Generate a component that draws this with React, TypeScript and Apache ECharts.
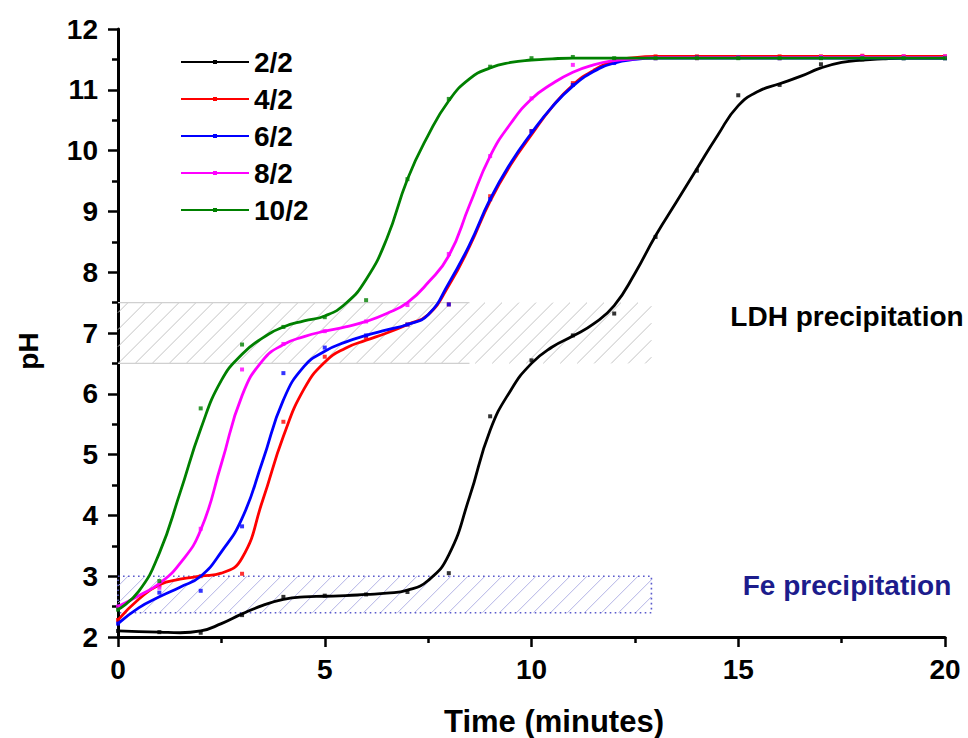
import React, { useEffect, useRef } from "react";
import * as echarts from "echarts";

// ---------- data ----------
const seriesNames = ["2/2", "4/2", "6/2", "8/2", "10/2"];
const seriesColors = ["#000000", "#ff0000", "#0000ff", "#ff00ff", "#008000"];

// fitted curve sampling times (minutes)
const curveTimes = [
  0, 0.5, 1, 1.5, 2, 2.5, 3, 3.5, 4, 4.5, 5, 5.5, 6, 6.5, 7, 7.5, 8, 8.5, 9, 9.5,
  10, 10.5, 11, 11.5, 12, 12.5, 13, 13.5, 14, 14.5, 15, 15.5, 16, 16.5, 17, 17.5,
  18, 18.5, 19, 19.5, 20,
];

const curve22 = [
  2.1, 2.09, 2.08, 2.07, 2.1, 2.22, 2.38, 2.52, 2.62, 2.66,
  2.67, 2.68, 2.7, 2.72, 2.77, 2.93, 3.35, 4.3, 5.4, 6.06,
  6.5, 6.77, 6.95, 7.15, 7.45, 7.98, 8.6, 9.15, 9.7, 10.25,
  10.74, 10.98, 11.1, 11.22, 11.36, 11.45, 11.49, 11.51, 11.52, 11.52,
  11.52,
];
const curve42 = [
  2.28, 2.62, 2.86, 2.95, 3.0, 3.05, 3.3, 4.25, 5.3, 6.08,
  6.52, 6.75, 6.88, 7.0, 7.14, 7.3, 7.78, 8.42, 9.17, 9.77,
  10.26, 10.72, 11.08, 11.32, 11.47, 11.53, 11.55, 11.55, 11.55, 11.55,
  11.55, 11.55, 11.55, 11.55, 11.55, 11.55, 11.55, 11.55, 11.55, 11.55,
  11.55,
];
const curve62 = [
  2.22, 2.48, 2.66, 2.82, 3.0, 3.4, 3.95, 4.9, 5.9, 6.45,
  6.7, 6.85, 6.96, 7.05, 7.14, 7.3, 7.82, 8.45, 9.2, 9.8,
  10.29, 10.72, 11.06, 11.3, 11.44, 11.5, 11.52, 11.52, 11.52, 11.52,
  11.52, 11.52, 11.52, 11.52, 11.52, 11.52, 11.52, 11.52, 11.52, 11.52,
  11.52,
];
const curve82 = [
  2.5, 2.68, 2.88, 3.21, 3.76, 4.85, 5.97, 6.55, 6.81, 6.94,
  7.03, 7.1, 7.19, 7.32, 7.5, 7.83, 8.27, 9.1, 9.91, 10.45,
  10.85, 11.1, 11.29, 11.41, 11.48, 11.51, 11.53, 11.53, 11.53, 11.53,
  11.53, 11.53, 11.53, 11.53, 11.53, 11.53, 11.53, 11.53, 11.53, 11.53,
  11.53,
];
const curve102 = [
  2.45, 2.75, 3.38, 4.37, 5.42, 6.22, 6.65, 6.92, 7.1, 7.2,
  7.28, 7.48, 7.88, 8.55, 9.53, 10.25, 10.82, 11.18, 11.36, 11.45,
  11.49, 11.51, 11.52, 11.52, 11.52, 11.52, 11.52, 11.52, 11.52, 11.52,
  11.52, 11.52, 11.52, 11.52, 11.52, 11.52, 11.52, 11.52, 11.52, 11.52,
  11.52,
];

// measured points (one per minute)
const markerTimes = [0, 1, 2, 3, 4, 5, 6, 7, 8, 9, 10, 11, 12, 13, 14, 15, 16, 17, 18, 19, 20];
const points22 = [2.1, 2.08, 2.07, 2.36, 2.66, 2.68, 2.7, 2.74, 3.05, 5.63, 6.55, 6.96, 7.32, 8.58, 9.67, 10.91, 11.08, 11.42, 11.5, 11.52, 11.52];
const points42 = [2.28, 2.85, 3.0, 3.04, 5.54, 6.61, 6.92, 7.14, 7.47, 9.25, 10.32, 11.11, 11.46, 11.55, 11.55, 11.54, 11.55, 11.55, 11.56, 11.55, 11.55];
const points62 = [2.22, 2.73, 2.76, 3.82, 6.34, 6.76, 6.96, 7.14, 7.47, 9.2, 10.32, 11.08, 11.44, 11.52, 11.53, 11.53, 11.52, 11.53, 11.53, 11.52, 11.52];
const points82 = [2.5, 2.81, 3.78, 6.4, 6.82, 7.03, 7.19, 7.46, 8.3, 9.91, 10.86, 11.41, 11.5, 11.52, 11.52, 11.53, 11.52, 11.54, 11.55, 11.55, 11.55];
const points102 = [2.45, 2.92, 5.76, 6.81, 7.1, 7.26, 7.54, 9.53, 10.85, 11.38, 11.52, 11.54, 11.52, 11.52, 11.52, 11.52, 11.52, 11.52, 11.52, 11.52, 11.52];

const curves = [curve22, curve42, curve62, curve82, curve102];
const points = [points22, points42, points62, points82, points102];

// precipitation bands: [tStart, tEnd, pHLow, pHHigh]
const ldhBand = [0, 12.9, 6.5, 7.5];
const feBand = [0, 12.9, 2.4, 3.0];
const ldhBorderEnd = 8.5;

const xTicks = { min: 0, max: 20, interval: 5 };
const yTicks = { min: 2, max: 12, interval: 1 };

const FONT = "'Liberation Sans', Arial, Helvetica, sans-serif";

function makeHatch(kind: "ldh" | "fe") {
  return (params: any, api: any) => {
    const x0 = api.value(0);
    const x1 = api.value(1);
    const y0 = api.value(2);
    const y1 = api.value(3);
    const pTL = api.coord([x0, y1]);
    const pBR = api.coord([x1, y0]);
    const L = pTL[0], T = pTL[1], R = pBR[0], B = pBR[1];
    const spacing = 17;
    const hatchColor = kind === "ldh" ? "#c4c4c4" : "#b4b4e6";
    const children: any[] = [];
    for (let c = L + T + 10; c < R + B; c += spacing) {
      const xs = Math.max(L, c - B);
      const xe = Math.min(R, c - T);
      if (xe <= xs) continue;
      children.push({
        type: "line",
        silent: true,
        shape: { x1: xs, y1: c - xs, x2: xe, y2: c - xe },
        style: { stroke: hatchColor, lineWidth: 1 },
      });
    }
    if (kind === "ldh") {
      const xb = api.coord([ldhBorderEnd, y0])[0];
      children.push({
        type: "line",
        silent: true,
        shape: { x1: L, y1: T, x2: xb, y2: T },
        style: { stroke: "#d0d0d0", lineWidth: 1.2 },
      });
      children.push({
        type: "line",
        silent: true,
        shape: { x1: L, y1: B, x2: xb, y2: B },
        style: { stroke: "#d0d0d0", lineWidth: 1.2 },
      });
    } else {
      children.push({
        type: "rect",
        silent: true,
        shape: { x: L, y: T, width: R - L, height: B - T },
        style: { fill: "none", stroke: "#5a5acc", lineWidth: 1.6, lineDash: [1.6, 3.4] },
      });
    }
    return { type: "group", children };
  };
}

export default function App() {
  const ref = useRef<HTMLDivElement>(null);

  useEffect(() => {
    const chart = echarts.init(ref.current!, null, { renderer: "svg" });

    const lineSeries = seriesNames.map((name, i) => ({
      name,
      type: "line",
      data: curveTimes.map((t, k) => [t, curves[i][k]]),
      smooth: 0.5,
      symbol: "rect",
      symbolSize: 4,
      showSymbol: false,
      lineStyle: { color: seriesColors[i], width: 2.8 },
      itemStyle: { color: seriesColors[i] },
      z: 3 + i,
      silent: true,
    }));
    const pointSeries = seriesNames.map((name, i) => ({
      name,
      type: "scatter",
      data: markerTimes.map((t, k) => [t, points[i][k]]),
      symbol: "rect",
      symbolSize: 4,
      itemStyle: { color: seriesColors[i] },
      z: 3 + i,
      silent: true,
    }));

    const option: any = {
      animation: false,
      backgroundColor: "#ffffff",
      grid: { left: 118, right: 23, top: 29, bottom: 101, containLabel: false },
      legend: {
        data: seriesNames,
        orient: "vertical",
        left: 175,
        top: 43,
        itemWidth: 68,
        itemHeight: 5,
        itemGap: 9,
        textStyle: { fontSize: 28, fontWeight: "bold", color: "#000", fontFamily: FONT },
        selectedMode: false,
      },
      xAxis: {
        type: "value",
        min: xTicks.min,
        max: xTicks.max,
        interval: xTicks.interval,
        axisLine: { show: true, onZero: false, lineStyle: { color: "#000", width: 3 } },
        axisTick: { show: true, inside: false, length: 10, lineStyle: { color: "#000", width: 2.5 } },
        minorTick: { show: true, splitNumber: 2, length: 6, lineStyle: { color: "#000", width: 2.5 } },
        splitLine: { show: false },
        axisLabel: { fontSize: 28, fontWeight: "bold", color: "#000", fontFamily: FONT, margin: 18 },
      },
      yAxis: {
        type: "value",
        min: yTicks.min,
        max: yTicks.max,
        interval: yTicks.interval,
        axisLine: { show: true, onZero: false, lineStyle: { color: "#000", width: 3 } },
        axisTick: { show: true, inside: false, length: 10, lineStyle: { color: "#000", width: 2.5 } },
        minorTick: { show: true, splitNumber: 2, length: 6, lineStyle: { color: "#000", width: 2.5 } },
        splitLine: { show: false },
        axisLabel: { fontSize: 28, fontWeight: "bold", color: "#000", fontFamily: FONT, margin: 20 },
      },
      graphic: [
        {
          type: "text",
          x: 554,
          y: 721,
          style: {
            text: "Time (minutes)",
            font: `bold 31px ${FONT}`,
            fill: "#000",
            align: "center",
            verticalAlign: "middle",
          },
        },
        {
          type: "text",
          x: 28,
          y: 351,
          rotation: Math.PI / 2,
          style: {
            text: "pH",
            font: `bold 28px ${FONT}`,
            fill: "#000",
            align: "center",
            verticalAlign: "middle",
          },
        },
        {
          type: "text",
          x: 847,
          y: 316,
          style: {
            text: "LDH precipitation",
            font: `bold 28px ${FONT}`,
            fill: "#000",
            align: "center",
            verticalAlign: "middle",
          },
        },
        {
          type: "text",
          x: 847,
          y: 585,
          style: {
            text: "Fe precipitation",
            font: `bold 28px ${FONT}`,
            fill: "#1c1c8c",
            align: "center",
            verticalAlign: "middle",
          },
        },
      ],
      series: [
        {
          name: "LDH band",
          type: "custom",
          renderItem: makeHatch("ldh"),
          data: [ldhBand],
          encode: { x: [0, 1], y: [2, 3] },
          z: 1,
          silent: true,
        },
        {
          name: "Fe band",
          type: "custom",
          renderItem: makeHatch("fe"),
          data: [feBand],
          encode: { x: [0, 1], y: [2, 3] },
          z: 1,
          silent: true,
        },
        ...lineSeries,
        ...pointSeries,
      ],
    };

    chart.setOption(option);
    return () => chart.dispose();
  }, []);

  return (
    <div
      ref={ref}
      style={{ position: "fixed", left: 0, top: 0, width: 968, height: 738, background: "#fff" }}
    />
  );
}
